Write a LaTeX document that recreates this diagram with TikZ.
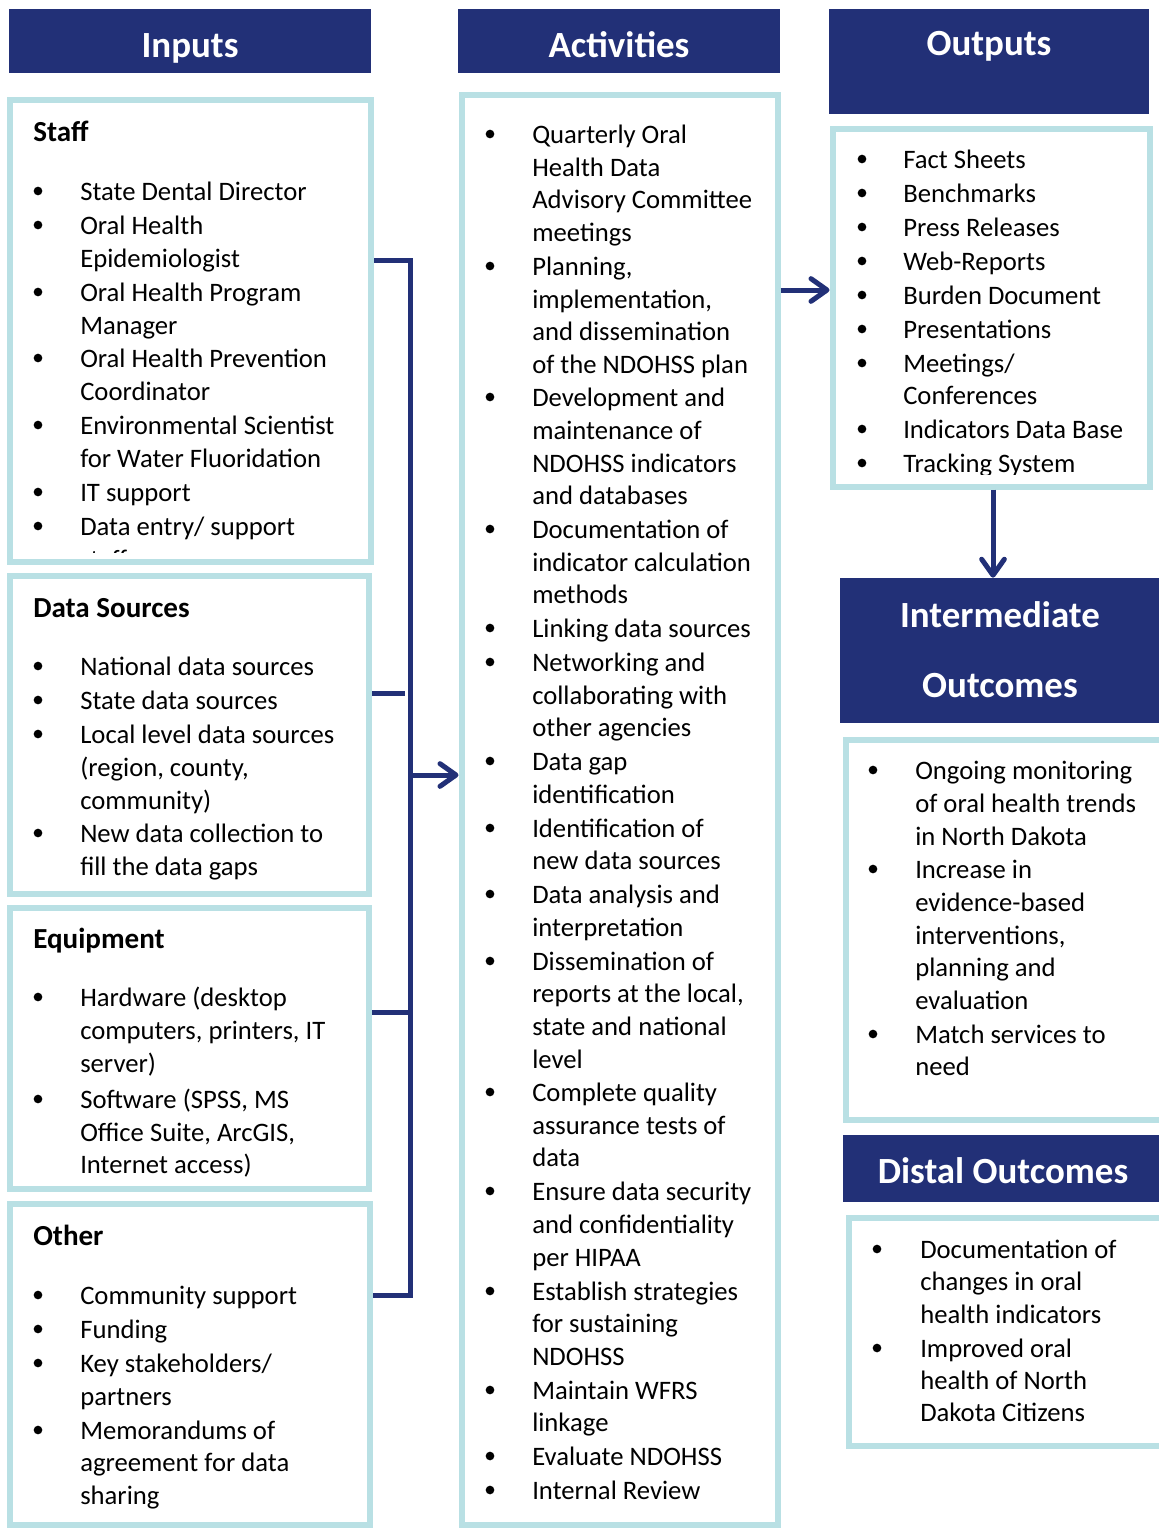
\documentclass[tikz,border=0pt]{standalone}
\usepackage{fontspec}
\setmainfont{Carlito}
\usetikzlibrary{arrows.meta,fit}
\definecolor{navy}{RGB}{34,48,119}
\definecolor{lblue}{RGB}{185,224,228}
\newcounter{ln}
\newcommand\BI[2]{\stepcounter{ln}\node[dot] (d\theln) at (\bx,#1) {};\node[txt] (t\theln) at (\tx,#1+9.5) {#2};}
\newcommand\CL[2]{\stepcounter{ln}\node[txt] (t\theln) at (\tx,#1+9.5) {#2};}
\begin{document}
\begin{tikzpicture}[x=0.75pt,y=-0.75pt,
  box/.style={draw=lblue,line width=4.5pt,inner sep=0pt,rectangle},
  hdr/.style={fill=navy,inner sep=0pt,rectangle},
  htxt/.style={anchor=base,text=white,font=\fontsize{27.7}{30}\selectfont\bfseries,inner sep=0pt},
  head/.style={anchor=base west,font=\fontsize{21.8}{26}\selectfont\bfseries,inner sep=0pt},
  txt/.style={anchor=base west,font=\fontsize{20}{24}\selectfont,inner sep=0pt},
  dot/.style={circle,fill=black,inner sep=0pt,minimum size=6.5pt},
  conn/.style={draw=navy,line width=3.75pt},
  arr/.style={conn,-{Straight Barb[length=12pt,width=17pt,round]}},
]
\useasboundingbox (0,0) rectangle (1159,1528);
\clip (0,0) rectangle (1159,1528);
\fill[white] (0,0) rectangle (1159,1528);

% headers
\node[hdr,fit={(9,9) (371,73)}] (inH) {};
\node[hdr,fit={(458,9) (780,73)}] (actH) {};
\node[hdr,fit={(829,9) (1149,114)}] (outH) {};
\node[hdr,fit={(840,578) (1170,723)}] (imH) {};
\node[hdr,fit={(843,1135) (1170,1202)}] (diH) {};
\node[htxt] (inL) at (190,57) {Inputs};
\node[htxt] (actL) at (619,57) {Activities};
\node[htxt] (outL) at (989,55.5) {Outputs};
\node[htxt] (imL1) at (1000,627) {Intermediate};
\node[htxt] (imL2) at (1000,697) {Outcomes};
\node[htxt] (diL) at (1003,1183) {Distal Outcomes};

% boxes
\node[box,fit={(10,100) (371,562)}] (staff) {};
\node[box,fit={(10,575.5) (369,894)}] (ds) {};
\node[box,fit={(10,908) (369,1189)}] (eq) {};
\node[box,fit={(10,1204) (370,1525)}] (other) {};
\node[box,fit={(461.5,94.5) (777.5,1525)}] (act) {};
\node[box,fit={(832.5,128.5) (1149.5,486.5)}] (out) {};
\node[box,fit={(845.5,739.5) (1170,1119.5)}] (im) {};
\node[box,fit={(848.5,1217.5) (1170,1445.5)}] (di) {};

% Staff
\def\bx{38}\def\tx{80}
\node[head] (hStaff) at (33,141) {Staff};
\BI{191}{State Dental Director}
\BI{225}{Oral Health}
\CL{258}{Epidemiologist}
\BI{292}{Oral Health Program}
\CL{325}{Manager}
\BI{358}{Oral Health Prevention}
\CL{391}{Coordinator}
\BI{425}{Environmental Scientist}
\CL{458}{for Water Fluoridation}
\BI{492}{IT support}
\BI{526}{Data entry/ support}
\begin{scope}
\clip (13,104) rectangle (368,552);
\CL{559}{staff}
\end{scope}

% Data sources
\node[head] (hDS) at (33,617) {Data Sources};
\BI{666}{National data sources}
\BI{700}{State data sources}
\BI{734}{Local level data sources}
\CL{767}{(region, county,}
\CL{800}{community)}
\BI{833}{New data collection to}
\CL{866}{fill the data gaps}

% Equipment
\node[head] (hEq) at (33,948) {Equipment};
\BI{997}{Hardware (desktop}
\CL{1030}{computers, printers, IT}
\CL{1063}{server)}
\BI{1099}{Software (SPSS, MS}
\CL{1132}{Office Suite, ArcGIS,}
\CL{1164}{Internet access)}

% Other
\node[head] (hOt) at (33,1245) {Other};
\BI{1295}{Community support}
\BI{1329}{Funding}
\BI{1363}{Key stakeholders/}
\CL{1396}{partners}
\BI{1430}{Memorandums of}
\CL{1462}{agreement for data}
\CL{1495}{sharing}

% Activities
\def\bx{490}\def\tx{532}
\BI{134}{Quarterly Oral}
\CL{167}{Health Data}
\CL{199}{Advisory Committee}
\CL{232}{meetings}
\BI{266}{Planning,}
\CL{299}{implementation,}
\CL{331}{and dissemination}
\CL{364}{of the NDOHSS plan}
\BI{397}{Development and}
\CL{430}{maintenance of}
\CL{463}{NDOHSS indicators}
\CL{495}{and databases}
\BI{529}{Documentation of}
\CL{562}{indicator calculation}
\CL{594}{methods}
\BI{628}{Linking data sources}
\BI{662}{Networking and}
\CL{695}{collaborating with}
\CL{727}{other agencies}
\BI{761}{Data gap}
\CL{794}{identification}
\BI{828}{Identification of}
\CL{860}{new data sources}
\BI{894}{Data analysis and}
\CL{927}{interpretation}
\BI{961}{Dissemination of}
\CL{993}{reports at the local,}
\CL{1026}{state and national}
\CL{1059}{level}
\BI{1092}{Complete quality}
\CL{1125}{assurance tests of}
\CL{1157}{data}
\BI{1191}{Ensure data security}
\CL{1224}{and confidentiality}
\CL{1257}{per HIPAA}
\BI{1291}{Establish strategies}
\CL{1323}{for sustaining}
\CL{1356}{NDOHSS}
\BI{1390}{Maintain WFRS}
\CL{1422}{linkage}
\BI{1456}{Evaluate NDOHSS}
\BI{1490}{Internal Review}

% Outputs
\def\bx{862}\def\tx{903}
\begin{scope}
\clip (836,132) rectangle (1146,474);
\BI{159}{Fact Sheets}
\BI{193}{Benchmarks}
\BI{227}{Press Releases}
\BI{261}{Web-Reports}
\BI{295}{Burden Document}
\BI{329}{Presentations}
\BI{363}{Meetings/}
\CL{395}{Conferences}
\BI{429}{Indicators Data Base}
\BI{463}{Tracking System}
\end{scope}

% Intermediate
\def\bx{873}\def\tx{915}
\BI{770}{Ongoing monitoring}
\CL{803}{of oral health trends}
\CL{836}{in North Dakota}
\BI{869}{Increase in}
\CL{902}{evidence-based}
\CL{935}{interventions,}
\CL{967}{planning and}
\CL{1000}{evaluation}
\BI{1034}{Match services to}
\CL{1066}{need}

% Distal
\def\bx{877}\def\tx{920}
\BI{1249}{Documentation of}
\CL{1281}{changes in oral}
\CL{1314}{health indicators}
\BI{1348}{Improved oral}
\CL{1380}{health of North}
\CL{1412}{Dakota Citizens}

% connectors
\coordinate (bTop) at (410,260);
\coordinate (bBot) at (410,1295);
\coordinate (bDS) at (405,693);
\coordinate (bEq) at (410,1012);
\coordinate (bArr) at (410,775);
\draw[conn] (staff.east |- bTop) -- (bTop) -- (bBot) -- (other.east |- bBot);
\draw[conn] (ds.east |- bDS) -- (bDS);
\draw[conn] (eq.east |- bEq) -- (bEq);
\draw[arr] (bArr) -- (act.west |- bArr);
\coordinate (oA) at (0,290);
\draw[arr] (act.east |- oA) -- (out.west |- oA);
\coordinate (oB) at (993,0);
\draw[arr] (out.south -| oB) -- (imH.north -| oB);
\end{tikzpicture}
\end{document}
